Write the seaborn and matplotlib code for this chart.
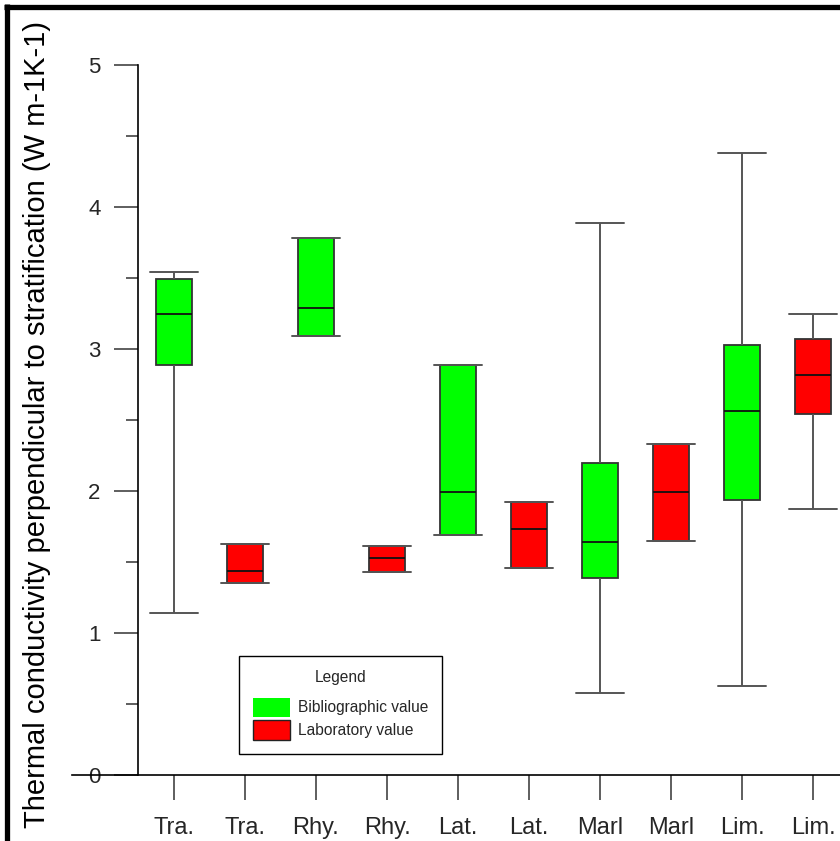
import numpy as np
import pandas as pd
import matplotlib
matplotlib.use("Agg")
import matplotlib.pyplot as plt
from matplotlib.lines import Line2D
from matplotlib.patches import Patch
from matplotlib.ticker import MultipleLocator
import seaborn as sns

# Rock types and the source of each conductivity series
rocks = ["Tra.", "Tra.", "Rhy.", "Rhy.", "Lat.", "Lat.", "Marl", "Marl", "Lim.", "Lim."]
sources = ["Bibliographic value", "Laboratory value"] * 5

# Five-number summaries (W m-1 K-1)
whis_low = [1.14, 1.35, 3.09, 1.43, 1.69, 1.46, 0.58, 1.65, 0.63, 1.87]
q1       = [2.89, 1.35, 3.09, 1.43, 1.69, 1.46, 1.39, 1.65, 1.94, 2.54]
median   = [3.25, 1.44, 3.29, 1.53, 1.99, 1.73, 1.64, 1.99, 2.56, 2.82]
q3       = [3.49, 1.63, 3.78, 1.61, 2.89, 1.92, 2.20, 2.33, 3.03, 3.07]
whis_high = [3.54, 1.63, 3.78, 1.61, 2.89, 1.92, 3.89, 2.33, 4.38, 3.25]

y_ticks = [0, 1, 2, 3, 4, 5]

palette = {"Bibliographic value": "#00FF00", "Laboratory value": "#FF0000"}

# Long table: one row per summary value, so the box statistics are exact
rows = []
for i in range(len(rocks)):
    for v in (whis_low[i], q1[i], median[i], q3[i], whis_high[i]):
        rows.append({"slot": i, "source": sources[i], "value": v})
df = pd.DataFrame(rows)

sns.set_style("white")
plt.rcParams["font.family"] = ["Liberation Sans", "DejaVu Sans"]

W, H = 840, 841
fig = plt.figure(figsize=(W / 100, H / 100), dpi=100)
ax = fig.add_axes([138 / W, (H - 775) / H, 1 - 138 / W, (775 - 65) / H])

sns.boxplot(
    data=df, x="slot", y="value", hue="source", palette=palette,
    order=list(range(len(rocks))), whis=(0, 100), width=0.51, dodge=False,
    linecolor="#333333", linewidth=1.3, saturation=1, legend=False,
    medianprops={"color": "#111111", "linewidth": 1.3},
    whiskerprops={"color": "#555555", "linewidth": 1.4},
    capprops={"color": "#555555", "linewidth": 1.4},
    ax=ax,
)

# Wider whisker caps
cap_w = 0.68
for cont in ax.containers:
    for cap in getattr(cont, "caps", []):
        xd = np.asarray(cap.get_xdata(), dtype=float)
        c = xd.mean()
        cap.set_xdata([c - cap_w / 2, c + cap_w / 2])

x0 = (138 - 174) / 71
x1 = (W - 174) / 71
ax.set_xlim(x0, x1)
ax.set_ylim(0, 5)
ax.set_yticks(y_ticks)
ax.set_yticklabels([str(t) for t in y_ticks])
ax.yaxis.set_minor_locator(MultipleLocator(0.5))
ax.set_xticks(range(len(rocks)))
ax.set_xticklabels(rocks)
ax.set_xlabel("")
ax.set_ylabel("")

for side in ("top", "right"):
    ax.spines[side].set_visible(False)
for side in ("left", "bottom"):
    ax.spines[side].set_color("black")
    ax.spines[side].set_linewidth(1.2)
ax.spines["left"].set_bounds(0, 5)
ax.spines["bottom"].set_bounds((72 - 174) / 71, x1)

ax.tick_params(axis="y", which="major", direction="out", length=17, width=1.1,
               color="#333333", pad=10, labelsize=16, left=True)
ax.tick_params(axis="y", which="minor", direction="out", length=9, width=1.1,
               color="#333333", left=True)
ax.tick_params(axis="x", which="major", direction="out", length=18, width=1.1,
               color="#333333", pad=12, labelsize=17, bottom=True)

fig.text(37 / W, 1 - 424 / H,
         "Thermal conductivity perpendicular to stratification (W m-1K-1)",
         rotation=90, ha="center", va="center", fontsize=21, color="black")

# Legend box
handles = [
    Patch(facecolor=palette["Bibliographic value"], edgecolor="none"),
    Patch(facecolor=palette["Laboratory value"], edgecolor="#222222", linewidth=1),
]
leg_font = {"family": "Liberation Sans", "size": 11.2}
leg = ax.legend(
    handles, ["Bibliographic value", "Laboratory value"], title="Legend",
    loc="upper left",
    bbox_to_anchor=(239 / W, 1 - 760 / H, (442 - 239) / W, (760 - 656) / H),
    bbox_transform=fig.transFigure, mode="expand", borderaxespad=0,
    frameon=True, fancybox=False, framealpha=1, edgecolor="black",
    prop=leg_font, title_fontproperties=leg_font,
    handlelength=2.4, handleheight=1.55, handletextpad=0.5, labelspacing=0.2,
    borderpad=0.9,
)
leg._legend_box.sep = 9
leg.get_frame().set_linewidth(1.0)

# Heavy frame lines along the top and left edges
fig.add_artist(Line2D([4 / W, 1], [1 - 7 / H] * 2, transform=fig.transFigure,
                      color="black", linewidth=3.8, solid_capstyle="butt"))
fig.add_artist(Line2D([7 / W] * 2, [0, 1 - 4 / H], transform=fig.transFigure,
                      color="black", linewidth=3.8, solid_capstyle="butt"))

fig.savefig("out.png", dpi=100)
